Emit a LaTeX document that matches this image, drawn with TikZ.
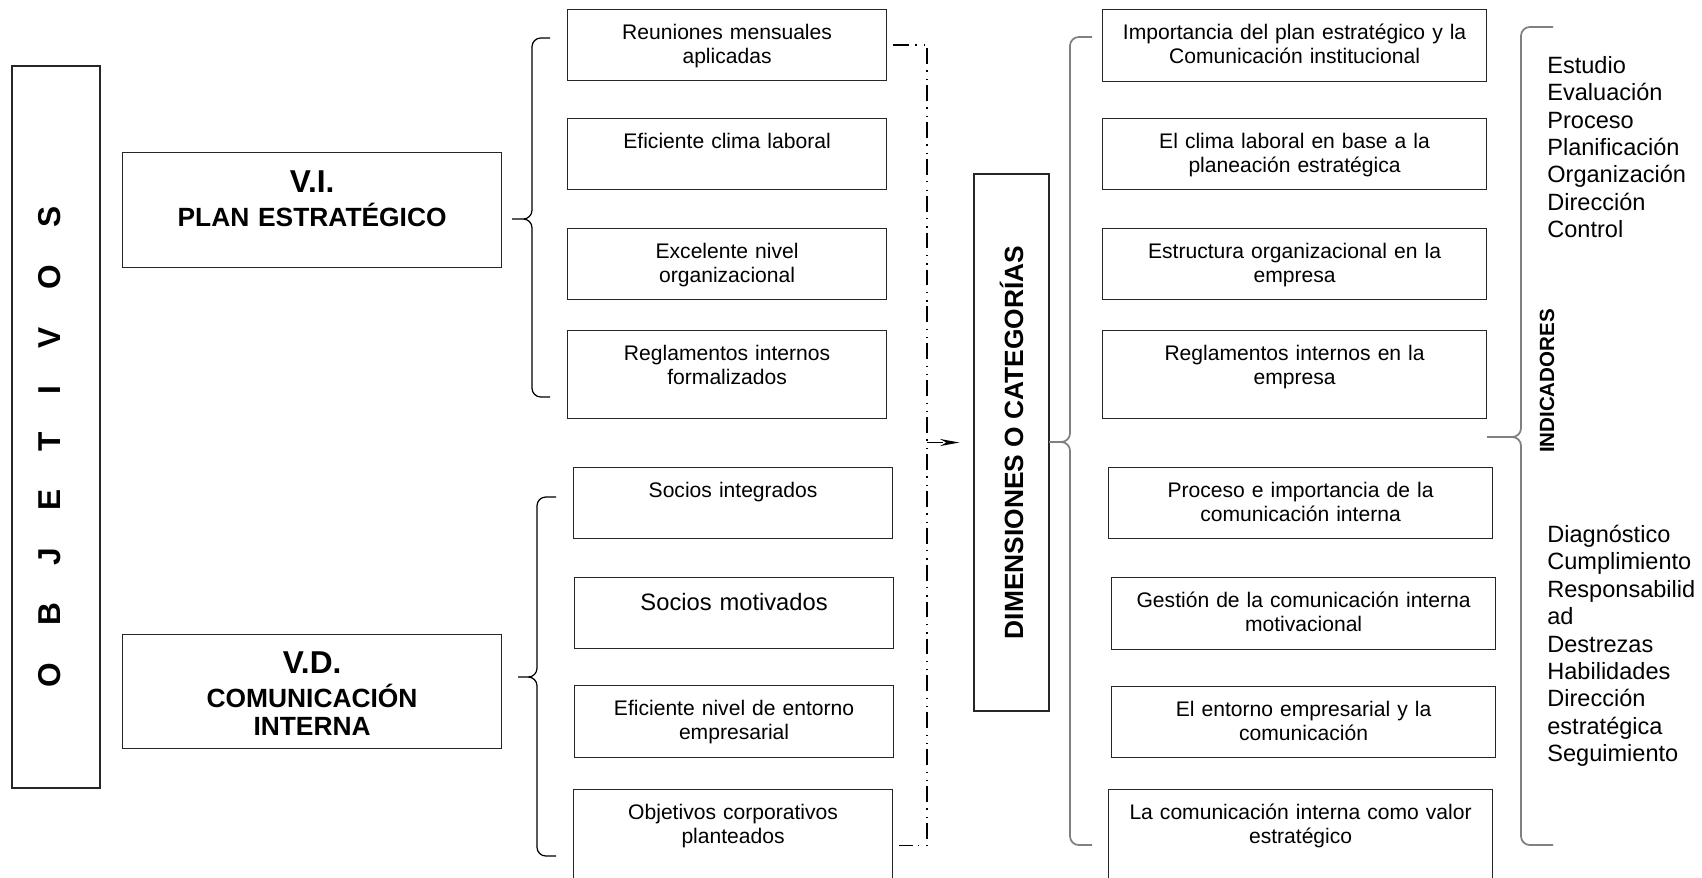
\documentclass[tikz,border=0pt]{standalone}
\usepackage{fontspec}
\setmainfont{Liberation Sans}
\usetikzlibrary{arrows.meta}
\definecolor{grisllave}{RGB}{128,128,128}
\tikzset{%
    caja/.style={
      draw=black!85,
      line width=0.7pt,
      inner xsep=0.1cm,
      inner ysep=0pt,
      align=center,
      anchor=north west,
      text height=0.6cm,
      text depth=0.82cm,
      font=\fontsize{12}{13.8}\selectfont
    },
    medio/.style={caja, text width=6.18cm},
    derecha/.style={caja, text width=7.48cm},
    cajavar/.style={
      draw=black!85,
      line width=0.7pt,
      inner xsep=0.1cm,
      inner ysep=0pt,
      align=center,
      anchor=north west,
      text width=7.38cm,
      font=\bfseries\fontsize{15}{16.5}\selectfont
    },
    marco/.style={
      draw=black!85,
      line width=0.7pt,
      inner sep=0pt
    },
    llave/.style={line width=0.7pt, rounded corners=5pt},
    llave gris/.style={llave, draw=grisllave, line width=1pt},
    punteado/.style={
      line width=0.8pt,
      dash pattern=on 9pt off 3.7pt on 0.75pt off 4pt on 0.75pt off 2.8pt
    },
    lista/.style={
      inner sep=0pt,
      anchor=base west,
      text width=3.2cm,
      align=left,
      font=\fontsize{13.4}{15.65}\selectfont
    }
  }

\begin{document}
\begin{tikzpicture}[x=0.02cm, y=-0.02cm]
      \path[use as bounding box, clip] (0,0) rectangle (1702,877);

      % objetivos y variables
      \node [marco, minimum width=1.76cm, minimum height=14.44cm] (objetivos) at (56,427) {};
      \node [inner sep=0pt, font=\bfseries\fontsize{18}{20}\selectfont] (objetivosTxt) at (50,447) {\rotatebox{90}{\spaceskip=21.4pt\relax O B J E T I V O S}};

      \node [cajavar, text height=0.8cm, text depth=1.5cm] (vi) at (122,152) {{\fontsize{18}{20}\selectfont V.I.}\\[2.5pt] PLAN ESTRATÉGICO};
      \node [cajavar, text height=0.78cm, text depth=1.5cm] (vd) at (122,634) {{\fontsize{18}{20}\selectfont V.D.}\\[2.5pt] COMUNICACIÓN\\INTERNA};

      % cajas del centro
      \node [medio] (m1) at (567,9) {Reuniones mensuales\\aplicadas};
      \node [medio] (m2) at (567,118) {Eficiente clima laboral};
      \node [medio] (m3) at (567,228) {Excelente nivel\\organizacional};
      \node [medio, text depth=1.16cm] (m4) at (567,330) {Reglamentos internos\\formalizados};

      \node [medio] (m5) at (573,467) {Socios integrados};
      \node [medio, text height=0.66cm, text depth=0.76cm, font=\fontsize{13.5}{15}\selectfont] (m6) at (574,577) {Socios motivados};
      \node [medio, text depth=0.84cm] (m7) at (574,685) {Eficiente nivel de entorno\\empresarial};
      \node [medio, text depth=1.64cm] (m8) at (573,789) {Objetivos corporativos\\planteados};

      \node [marco, minimum width=1.5cm, minimum height=10.74cm, font=\bfseries\fontsize{15}{18}\selectfont] (dim) at (1011.5,442.5) {\rotatebox{90}{DIMENSIONES O CATEGORÍAS}};

      % cajas de la derecha
      \node [derecha, text depth=0.84cm] (r1) at (1102,9) {Importancia del plan estratégico y la\\Comunicación institucional};
      \node [derecha] (r2) at (1102,118) {El clima laboral en base a la\\planeación estratégica};
      \node [derecha] (r3) at (1102,228) {Estructura organizacional en la\\empresa};
      \node [derecha, text depth=1.16cm] (r4) at (1102,330) {Reglamentos internos en la\\empresa};

      \node [derecha] (r5) at (1108,467) {Proceso e importancia de la\\comunicación interna};
      \node [derecha, text depth=0.84cm] (r6) at (1111,577) {Gestión de la comunicación interna\\motivacional};
      \node [derecha] (r7) at (1111,686) {El entorno empresarial y la\\comunicación};
      \node [derecha, text depth=1.64cm] (r8) at (1108,789) {La comunicación interna como valor\\estratégico};

      \node [inner sep=0pt, font=\bfseries\fontsize{11.7}{14}\selectfont] (indicadores) at (1547,381) {\rotatebox{90}{INDICADORES}};
      \node [lista] (listaVI) at (1547,73) {Estudio\\Evaluación\\Proceso\\Planificación\\Organización\\Dirección\\Control};
      \node [lista] (listaVD) at (1547,542) {Diagnóstico\\Cumplimiento\\Responsabilid\\ad\\Destrezas\\Habilidades\\Dirección\\estratégica\\Seguimiento};

      % llaves
      \draw [llave] (550,38) -| (532,219) -- (512,219) (512,219) -| (532,397) -- (550,397);
      \draw [llave] (556,497) -| (537,677) -- (518,677) (518,677) -| (537,856) -- (556,856);
      \draw [llave gris] (1092,37) -| (1070,442) -- (1049,442) (1049,442) -| (1070,845) -- (1092,845);
      \draw [llave gris] (1553,27) -| (1521,437) -- (1487,437) (1487,437) -| (1521,845) -- (1553,845);

      % conector
      \coordinate (bus) at (927,442.5);
      \draw [punteado, shorten <=0.12cm, shorten >=0.12cm] (m1.east) -| (bus) |- (m8.east);
      \draw [punteado, -{Stealth[length=11pt, width=4pt]}, shorten >=0.28cm] (bus) -- (dim.west);

    \end{tikzpicture}
\end{document}
